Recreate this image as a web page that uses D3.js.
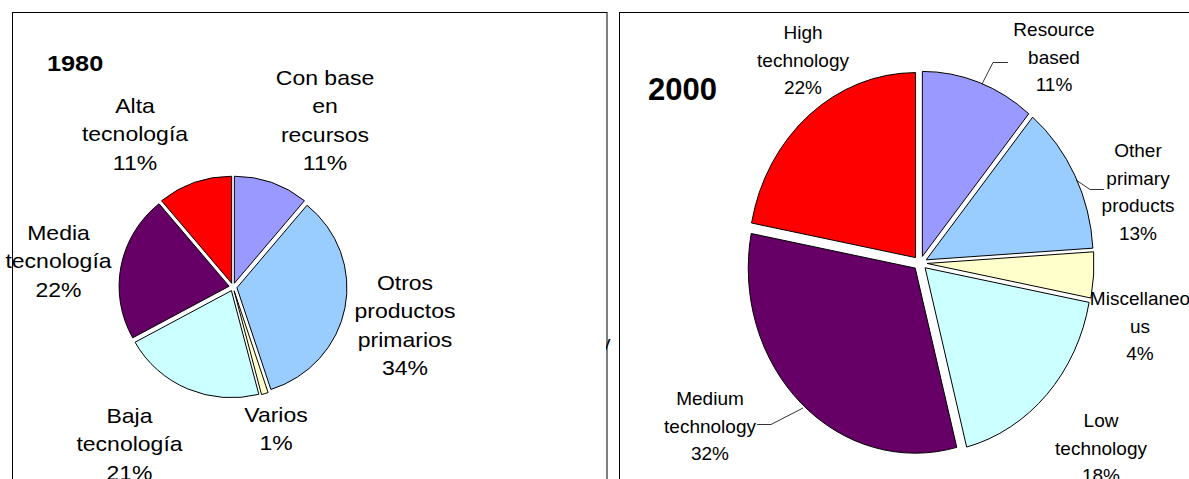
<!DOCTYPE html>
<html>
<head>
<meta charset="utf-8">
<script src="https://cdn.jsdelivr.net/npm/d3@7/dist/d3.min.js"></script>
<style>
  html, body { margin: 0; padding: 0; background: #fff; }
  svg { display: block; }
  text { font-family: "Liberation Sans", Arial, Helvetica, sans-serif; fill: #000; }
</style>
</head>
<body>
<svg id="chart" width="1189" height="479"></svg>
<script>
// Export structure by technology level, shares in percent
const categories1980 = ["Con base en recursos", "Otros productos primarios", "Varios", "Baja tecnología", "Media tecnología", "Alta tecnología"];
const shares1980 = [11, 34, 1, 21, 22, 11];
const labelLines1980 = [["Con base", "en", "recursos"], ["Otros", "productos", "primarios"], ["Varios"], ["Baja", "tecnología"], ["Media", "tecnología"], ["Alta", "tecnología"]];

const categories2000 = ["Resource based", "Other primary products", "Miscellaneous", "Low technology", "Medium technology", "High technology"];
const shares2000 = [11, 13, 4, 18, 32, 22];
const labelLines2000 = [["Resource", "based"], ["Other", "primary", "products"], ["Miscellaneo", "us"], ["Low", "technology"], ["Medium", "technology"], ["High", "technology"]];

const sliceColors = ["#9999FF", "#99CCFF", "#FFFFCC", "#CCFFFF", "#660066", "#FF0000"];

const svg = d3.select("#chart");

// panel frames
svg.append("rect").attr("x", 12.5).attr("y", 12.5).attr("width", 594.5).attr("height", 500)
  .attr("fill", "none").attr("stroke", "#000").attr("stroke-width", 1);
svg.append("rect").attr("x", 619.5).attr("y", 12.5).attr("width", 600).attr("height", 500)
  .attr("fill", "none").attr("stroke", "#000").attr("stroke-width", 1);

const color = d3.scaleOrdinal().domain(d3.range(6)).range(sliceColors);

function drawPie(cfg) {
  const pie = d3.pie().sort(null).value(d => d.value);
  const arcs = pie(cfg.cats.map((c, i) => ({ name: c, value: cfg.values[i], idx: i })));
  const arc = d3.arc().innerRadius(0).outerRadius(1);
  const g = svg.append("g");
  g.selectAll("path").data(arcs).join("path")
    .attr("d", arc)
    .attr("transform", d => {
      const mid = (d.startAngle + d.endAngle) / 2;
      const ox = cfg.cx + cfg.explode * Math.sin(mid);
      const oy = cfg.cy - cfg.explode * Math.cos(mid);
      return `translate(${ox},${oy}) scale(${cfg.rx},${cfg.ry})`;
    })
    .attr("fill", d => color(d.data.idx))
    .attr("stroke", "#000")
    .attr("stroke-width", 1)
    .attr("vector-effect", "non-scaling-stroke");

  // labels
  cfg.labelPos.forEach((p, i) => {
    const lines = cfg.lines[i].concat([cfg.values[i] + "%"]);
    const t = svg.append("text")
      .attr("transform", `translate(${p[0]},${p[1]}) scale(${cfg.sx},1)`)
      .attr("text-anchor", "middle")
      .style("font-size", cfg.fontSize + "px");
    lines.forEach((ln, k) => {
      t.append("tspan").attr("x", 0).attr("y", k * cfg.lineH).text(ln);
    });
  });

  // year title
  svg.append("text")
    .attr("transform", `translate(${cfg.title[0]},${cfg.title[1]}) scale(${cfg.sx},1)`)
    .style("font-size", cfg.titleSize + "px").style("font-weight", "bold")
    .text(cfg.titleText);
}

drawPie({
  cats: categories1980, values: shares1980, lines: labelLines1980,
  cx: 233, cy: 287, rx: 110, ry: 107, explode: 4,
  fontSize: 20, sx: 1.15, lineH: 28.5,
  labelPos: [[325, 85], [405, 290], [276, 422], [129.5, 423], [58.5, 240], [135, 113]],
  title: [47, 71], titleSize: 22, titleText: "1980"
});

drawPie({
  cats: categories2000, values: shares2000, lines: labelLines2000,
  cx: 920, cy: 263, rx: 167, ry: 185, explode: 7,
  fontSize: 19, sx: 1, lineH: 27.7,
  labelPos: [[1054, 36], [1138, 157], [1140, 305], [1101, 427], [710, 405], [803, 39]],
  title: [648, 100], titleSize: 31, titleText: "2000"
});

// leader lines for the 2000 labels
const leaders = [
  [[1008, 62.5], [993, 62.5], [982, 84]],
  [[1104, 189.5], [1090, 189.5], [1076, 180]],
  [[757, 424.5], [771, 424.5], [803, 408]]
];
svg.append("g").selectAll("path").data(leaders).join("path")
  .attr("d", d3.line())
  .attr("fill", "none").attr("stroke", "#000").attr("stroke-width", 0.8);

// clipped glyph fragment at the edge of the first frame
svg.append("clipPath").attr("id", "edgeClip")
  .append("rect").attr("x", 606).attr("y", 330).attr("width", 6).attr("height", 30);
svg.append("text").attr("x", 601).attr("y", 349).attr("clip-path", "url(#edgeClip)")
  .style("font-size", "19px").text("y");
</script>
</body>
</html>
